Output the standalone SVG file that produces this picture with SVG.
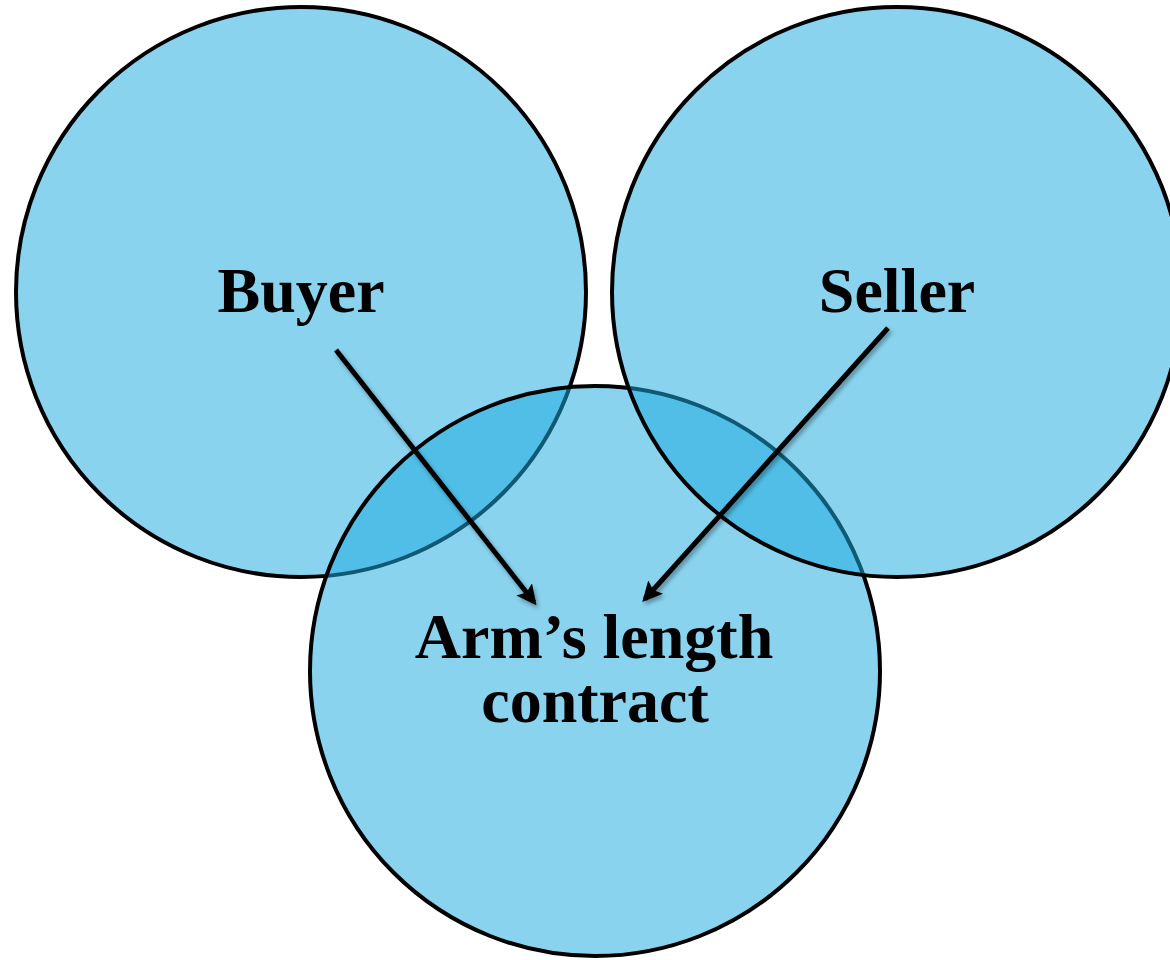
<svg xmlns="http://www.w3.org/2000/svg" width="1170" height="960" viewBox="0 0 1170 960">
  <style>
    .set { fill: rgb(29,170,225); fill-opacity: 0.52; stroke: #000; stroke-width: 4; }
    .label { font-family: "Liberation Serif", "Times New Roman", serif; font-weight: bold; font-size: 64px; fill: #000; text-anchor: middle; }
    .link { stroke: #000; stroke-width: 5; fill: none; marker-end: url(#head); filter: url(#shade); }
  </style>
  <defs>
    <marker id="head" viewBox="0 0 10 10" refX="8" refY="5" markerWidth="4" markerHeight="4" orient="auto" markerUnits="strokeWidth">
      <path d="M0,0 L10,5 L0,10 L2,5 Z" fill="#000"/>
    </marker>
    <filter id="shade" x="-20%" y="-20%" width="140%" height="140%">
      <feDropShadow dx="2" dy="3" stdDeviation="2" flood-color="#000" flood-opacity="0.35"/>
    </filter>
  </defs>
  <rect width="1170" height="960" fill="#fff"/>

  <!-- Buyer set -->
  <g id="buyer">
    <circle class="set" cx="301" cy="292" r="285"/>
  </g>
  <!-- Contract set -->
  <g id="contract">
    <circle class="set" cx="595" cy="671" r="285"/>
  </g>
  <!-- Seller set -->
  <g id="seller">
    <circle class="set" cx="897" cy="292" r="285"/>
  </g>

  <!-- Labels -->
  <g id="labels">
    <text class="label" x="301" y="312">Buyer</text>
    <text class="label" x="897" y="312">Seller</text>
    <text class="label" x="594" y="658">Arm’s length</text>
    <text class="label" x="595" y="722">contract</text>
  </g>

  <!-- Connectors -->
  <g id="connectors">
    <line class="link" x1="336" y1="350" x2="534" y2="602"/>
    <line class="link" x1="888" y1="328" x2="645" y2="599"/>
  </g>
</svg>
